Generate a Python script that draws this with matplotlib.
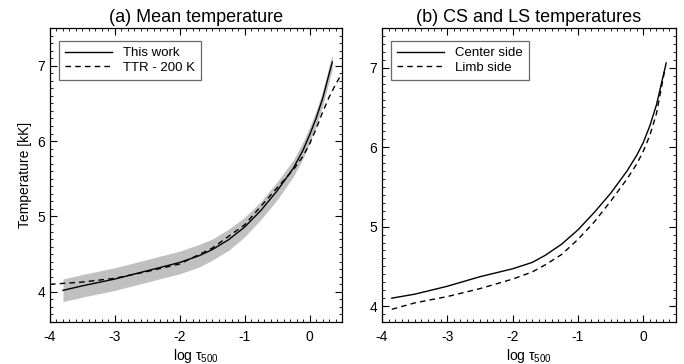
import matplotlib
matplotlib.use("Agg")
import matplotlib.pyplot as plt
from matplotlib.ticker import MultipleLocator

plt.rcParams['font.family'] = ['Liberation Sans', 'DejaVu Sans']
plt.rcParams['mathtext.fontset'] = 'custom'
plt.rcParams['mathtext.rm'] = 'Liberation Sans'
plt.rcParams['mathtext.it'] = 'Liberation Sans'

# ---- data (log tau_500, temperature in kK) ----
x_mean = [-3.8, -3.5, -3.0, -2.5, -2.0, -1.7, -1.5, -1.25, -1.0, -0.75, -0.5, -0.25, -0.1, 0.0, 0.1, 0.2, 0.35]
t_mean = [4.02, 4.08, 4.17, 4.28, 4.39, 4.48, 4.56, 4.69, 4.86, 5.08, 5.34, 5.64, 5.88, 6.08, 6.30, 6.56, 7.05]
t_upper = [4.17, 4.23, 4.32, 4.43, 4.54, 4.63, 4.70, 4.83, 4.99, 5.20, 5.46, 5.75, 5.99, 6.18, 6.40, 6.66, 7.15]
t_lower = [3.87, 3.93, 4.02, 4.13, 4.24, 4.33, 4.42, 4.55, 4.73, 4.96, 5.22, 5.53, 5.77, 5.98, 6.20, 6.46, 6.95]

x_ttr = [-4.0, -3.5, -3.0, -2.5, -2.0, -1.5, -1.0, -0.5, -0.25, -0.1, 0.0, 0.1, 0.2, 0.3, 0.4, 0.5]
t_ttr = [4.10, 4.13, 4.18, 4.27, 4.37, 4.58, 4.89, 5.38, 5.62, 5.80, 5.96, 6.16, 6.38, 6.58, 6.75, 6.90]

x_cs = [-3.85, -3.5, -3.0, -2.5, -2.0, -1.7, -1.5, -1.25, -1.0, -0.75, -0.5, -0.25, -0.1, 0.0, 0.1, 0.2, 0.35]
t_cs = [4.10, 4.15, 4.25, 4.37, 4.47, 4.55, 4.64, 4.78, 4.96, 5.18, 5.42, 5.70, 5.90, 6.06, 6.27, 6.53, 7.06]
x_ls = [-3.85, -3.5, -3.0, -2.5, -2.0, -1.7, -1.5, -1.25, -1.0, -0.75, -0.5, -0.25, -0.1, 0.0, 0.1, 0.2, 0.33]
t_ls = [3.96, 4.04, 4.12, 4.22, 4.34, 4.43, 4.52, 4.65, 4.84, 5.06, 5.32, 5.60, 5.79, 5.95, 6.15, 6.42, 6.98]

xticks = [-4, -3, -2, -1, 0]
xticklabels = ['-4', '-3', '-2', '-1', '0']
yticks = [4, 5, 6, 7]

fig = plt.figure(figsize=(6.84, 3.64), dpi=100)
ax1 = fig.add_axes([50/684, 42/364, 292/684, 294/364])
ax2 = fig.add_axes([382/684, 42/364, 294/684, 294/364])

dash = (0, (4, 3))

ax1.fill_between(x_mean, t_lower, t_upper, color='#c0c0c0', lw=0)
ax1.plot(x_mean, t_mean, color='black', lw=1.0, label='This work')
ax1.plot(x_ttr, t_ttr, color='black', lw=1.0, ls=dash, label='TTR - 200 K')
ax1.set_ylim(3.6, 7.5)
ax1.set_title('(a) Mean temperature', fontsize=13, pad=4)
ax1.set_ylabel('Temperature [kK]', fontsize=10)

ax2.plot(x_cs, t_cs, color='black', lw=1.0, label='Center side')
ax2.plot(x_ls, t_ls, color='black', lw=1.0, ls=dash, label='Limb side')
ax2.set_ylim(3.8, 7.5)
ax2.set_title('(b) CS and LS temperatures', fontsize=13, pad=4)

for ax in (ax1, ax2):
    ax.set_xlim(-4, 0.5)
    ax.set_xticks(xticks)
    ax.set_xticklabels(xticklabels)
    ax.set_yticks(yticks)
    ax.xaxis.set_minor_locator(MultipleLocator(0.1))
    ax.yaxis.set_minor_locator(MultipleLocator(0.1))
    ax.tick_params(which='both', direction='in', top=True, right=True, labelsize=10)
    ax.tick_params(which='major', length=5, width=0.8)
    ax.tick_params(which='minor', length=2.5, width=0.6)
    ax.tick_params(axis='x', which='major', pad=6)
    ax.set_xlabel(r'log $\tau_{500}$', fontsize=10, labelpad=2)
    for s in ax.spines.values():
        s.set_linewidth(0.9)
    leg = ax.legend(loc='upper left', fontsize=9.5, frameon=True, fancybox=False,
                    edgecolor='#444444', handlelength=3.6, borderpad=0.45,
                    labelspacing=0.15, handletextpad=0.8, borderaxespad=0,
                    bbox_to_anchor=(0.03, 0.955))
    leg.get_frame().set_linewidth(0.9)

fig.savefig('out.png', dpi=100)
